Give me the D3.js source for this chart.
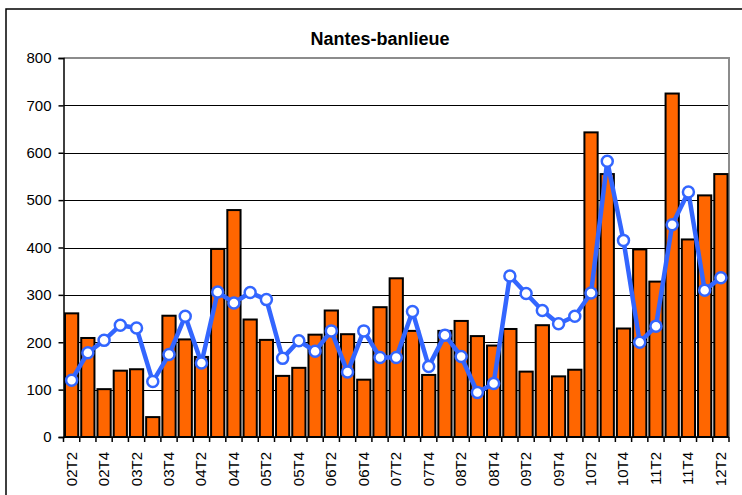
<!DOCTYPE html>
<html>
<head>
<meta charset="utf-8">
<script src="https://cdn.jsdelivr.net/npm/d3@7"></script>
<style>
  body { margin: 0; background: #fff; }
  text { font-family: "Liberation Sans", Arial, sans-serif; }
</style>
</head>
<body>
<div id="body"></div>
<script>
// categories (quarters)
var quarters = ['02T2','02T3','02T4','03T1','03T2','03T3','03T4','04T1','04T2','04T3','04T4',
  '05T1','05T2','05T3','05T4','06T1','06T2','06T3','06T4','07T1','07T2','07T3','07T4',
  '08T1','08T2','08T3','08T4','09T1','09T2','09T3','09T4','10T1','10T2','10T3','10T4',
  '11T1','11T2','11T3','11T4','12T1','12T2'];

// bar series
var barValues = [261, 209, 101, 140, 143, 42, 256, 206, 169, 397, 479,
  248, 205, 129, 146, 216, 267, 217, 121, 274, 335, 224, 131,
  224, 245, 213, 193, 228, 138, 236, 128, 142, 643, 555, 229,
  396, 328, 725, 417, 510, 555];

// line series
var lineValues = [120, 178, 204, 236, 230, 117, 174, 255, 156, 306, 283,
  305, 290, 166, 203, 181, 224, 137, 224, 168, 168, 265, 149,
  215, 170, 94, 113, 340, 303, 267, 239, 255, 304, 582, 415,
  200, 234, 448, 517, 310, 336];

var yTicks = [0, 100, 200, 300, 400, 500, 600, 700, 800];

function buildChart () {
  var width = 742, height = 495;
  var left = 63.5, right = 729, top = 58, bottom = 437;

  var svg = d3.select('#body')
    .append('svg')
    .attr('width', width)
    .attr('height', height);

  // outer chart frame (cropped on right / bottom)
  svg.append('rect')
    .attr('x', 6).attr('y', 9)
    .attr('width', 760).attr('height', 520)
    .style('fill', '#fff')
    .style('stroke', '#000')
    .style('stroke-width', 1.5);

  var x = d3.scaleBand().domain(quarters).range([left, right]).padding(0);
  var y = d3.scaleLinear().domain([0, 800]).range([bottom, top]);

  // title
  svg.append('text')
    .attr('x', 380).attr('y', 45)
    .attr('text-anchor', 'middle')
    .style('font-size', '18px')
    .style('font-weight', 'bold')
    .text('Nantes-banlieue');

  // gridlines
  svg.selectAll('.grid')
    .data(yTicks.filter(function(d){ return d > 0 && d < 800; }))
    .enter().append('line')
    .attr('x1', left).attr('x2', right)
    .attr('y1', function(d){ return Math.round(y(d)) + 0.5; })
    .attr('y2', function(d){ return Math.round(y(d)) + 0.5; })
    .style('stroke', '#000')
    .style('stroke-width', 1);

  // plot area top / right border
  svg.append('path')
    .attr('d', 'M' + left + ',' + y(800) + 'H' + right + 'V' + bottom)
    .style('fill', 'none')
    .style('stroke', '#8c8c8c')
    .style('stroke-width', 2);

  // bars
  var inset = 1;
  svg.selectAll('.bar')
    .data(quarters)
    .enter().append('rect')
    .attr('class', 'bar')
    .attr('x', function(d){ return x(d) + inset + 0.5; })
    .attr('width', x.bandwidth() - 2 * inset - 1)
    .attr('y', function(d, i){ return y(barValues[i]); })
    .attr('height', function(d, i){ return y(0) - y(barValues[i]); })
    .style('fill', '#ff6600')
    .style('stroke', '#000')
    .style('stroke-width', 2);

  // y axis
  svg.append('g')
    .attr('transform', 'translate(' + left + ',0)')
    .call(d3.axisLeft(y).tickValues(yTicks).tickSize(5).tickPadding(7).tickFormat(d3.format('d')))
    .call(function(g){
      g.select('.domain').style('stroke', '#000').style('stroke-width', 1.5);
      g.selectAll('.tick line').style('stroke', '#000').style('stroke-width', 1.5);
      g.selectAll('text').style('font-size', '15px').style('fill', '#000')
        .style('font-family', '"Liberation Sans", Arial, sans-serif');
    });

  // x axis line and ticks at category boundaries
  svg.append('line')
    .attr('x1', left).attr('x2', right)
    .attr('y1', bottom).attr('y2', bottom)
    .style('stroke', '#000').style('stroke-width', 1.5);

  svg.selectAll('.xtick')
    .data(quarters.concat(['end']))
    .enter().append('line')
    .attr('x1', function(d, i){ return i < quarters.length ? x(d) : right; })
    .attr('x2', function(d, i){ return i < quarters.length ? x(d) : right; })
    .attr('y1', bottom).attr('y2', bottom + 5)
    .style('stroke', '#000').style('stroke-width', 1.5);

  // x labels every second quarter, rotated
  svg.selectAll('.xlabel')
    .data(quarters.filter(function(d, i){ return i % 2 === 0; }))
    .enter().append('text')
    .attr('transform', function(d){
      return 'translate(' + (x(d) + x.bandwidth() / 2 + 5) + ',' + (bottom + 15) + ') rotate(-90)';
    })
    .attr('text-anchor', 'end')
    .style('font-size', '15px')
    .text(function(d){ return d; });

  // line series
  var line = d3.line()
    .x(function(d, i){ return x(quarters[i]) + x.bandwidth() / 2; })
    .y(function(d){ return y(d); });

  svg.append('path')
    .datum(lineValues)
    .attr('d', line)
    .style('fill', 'none')
    .style('stroke', '#3366ff')
    .style('stroke-width', 4.5)
    .style('stroke-linejoin', 'round');

  svg.selectAll('.dot')
    .data(lineValues)
    .enter().append('circle')
    .attr('cx', function(d, i){ return x(quarters[i]) + x.bandwidth() / 2; })
    .attr('cy', function(d){ return y(d); })
    .attr('r', 5.5)
    .style('fill', '#fff')
    .style('stroke', '#3366ff')
    .style('stroke-width', 2.5);
}

buildChart();
</script>
</body>
</html>
